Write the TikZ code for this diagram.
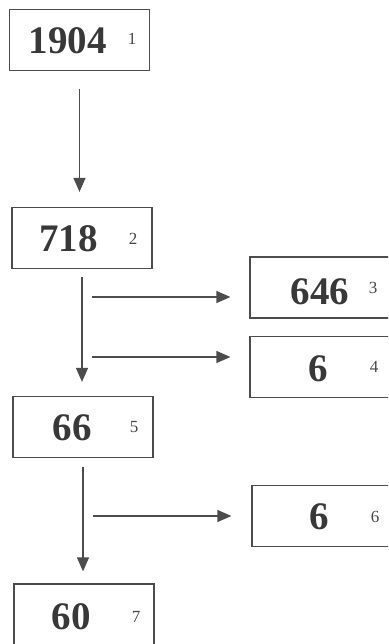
\documentclass[tikz,border=0pt]{standalone}
\usepackage{fontspec}
\setmainfont{Liberation Serif}
\usetikzlibrary{arrows.meta}

\begin{document}
\begin{tikzpicture}[x=1pt,y=-1pt,>={Triangle[length=14pt,width=12pt]},
	box/.style={rectangle,draw=black!70,line width=1.2pt,minimum width=140pt,minimum height=61pt,inner sep=0pt},
	wide/.style={box,minimum width=190pt},
	num/.style={inner sep=0pt,text=black!78,font=\fontsize{39}{39}\selectfont\bfseries},
	idx/.style={inner sep=0pt,text=black!72,font=\fontsize{17}{17}\selectfont},
	arr/.style={->,draw=black!70,line width=1.2pt}, ]

	\useasboundingbox (0,0) rectangle (388,644);
	\clip (0,0) rectangle (388,644);

	\node[box] (b1) at (79.5,40) {};
	\node[box] (b2) at (82,238) {};
	\node[wide] (b3) at (345,287.5) {};
	\node[wide] (b4) at (345,367) {};
	\node[box] (b5) at (83,427) {};
	\node[wide] (b6) at (347,516) {};
	\node[box,minimum height=70pt] (b7) at (84,619) {};

	\node[num] (n1) at (67.5,41) {1904};
	\node[idx] (i1) at (132,39) {1};
	\node[num] (n2) at (68.5,239) {718};
	\node[idx] (i2) at (133,239) {2};
	\node[num] (n3) at (320,292) {646};
	\node[idx] (i3) at (373,288) {3};
	\node[num] (n4) at (318,369) {6};
	\node[idx] (i4) at (374,367) {4};
	\node[num] (n5) at (72,428) {66};
	\node[idx] (i5) at (134,427) {5};
	\node[num] (n6) at (319,517) {6};
	\node[idx] (i6) at (375,517) {6};
	\node[num] (n7) at (71,617) {60};
	\node[idx] (i7) at (136,617) {7};

	\coordinate (h3) at (92,297);
	\coordinate (h4) at (92,357);
	\coordinate (h6) at (93,516);

	\draw[arr,shorten <=18pt,shorten >=15pt] (b1.south) -- (b1.south |- b2.north);
	\draw[arr,shorten <=8pt,shorten >=14pt] (b2.south) -- (b2.south |- b5.north);
	\draw[arr,shorten <=9pt,shorten >=12pt] (b5.south) -- (b5.south |- b7.north);

	\draw[arr,shorten >=19pt] (h3) -- (h3 -| b3.west);
	\draw[arr,shorten >=19pt] (h4) -- (h4 -| b4.west);
	\draw[arr,shorten >=20pt] (h6) -- (h6 -| b6.west);

\end{tikzpicture}
\end{document}
